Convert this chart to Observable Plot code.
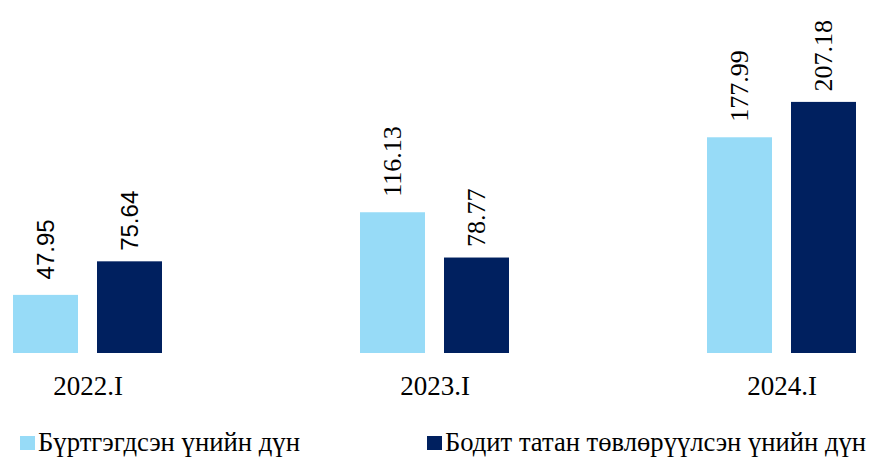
<!DOCTYPE html>
<html><head><meta charset="utf-8">
<script src="https://cdn.jsdelivr.net/npm/d3@7"></script>
<script src="https://cdn.jsdelivr.net/npm/@observablehq/plot@0.6"></script>
<style>
body{margin:0;background:#fff;font-family:"Liberation Serif","Times New Roman",serif;}
#legend{position:relative;height:40px;font-size:27px;color:#000;white-space:nowrap;}
#legend .item{position:absolute;top:0;display:flex;align-items:center;}
#legend .sw{width:15px;height:14px;margin-right:3px;flex:none;}
#legend .lt{display:inline-block;transform-origin:left center;}
</style></head>
<body><div id="chart"></div><div id="legend"></div>
<script>
const groups = ["2022.I", "2023.I", "2024.I"];
const seriesNames = ["Бүртгэгдсэн үнийн дүн", "Бодит татан төвлөрүүлсэн үнийн дүн"];
const registered = [47.95, 116.13, 177.99];
const actual = [75.64, 78.77, 207.18];
const colors = ["#97DBF7", "#00205F"];

const rows = [];
groups.forEach((g, i) => {
  rows.push({group: g, series: seriesNames[0], value: registered[i]});
  rows.push({group: g, series: seriesNames[1], value: actual[i]});
});
const labelText = d => d.value.toFixed(2);
const sansFirst = d => d.group === groups[0];
const SERIF = "'Liberation Serif', 'Times New Roman', serif";
const SANS = "'Liberation Sans', Arial, sans-serif";

function labels(seriesName, dy) {
  const sub = rows.filter(d => d.series === seriesName);
  return [
    Plot.text(sub.filter(sansFirst), {fx: "group", x: "series", y: "value", text: labelText,
      rotate: -90, textAnchor: "start", dy, fontSize: 24, fontFamily: SANS, fill: "#000"}),
    Plot.text(sub.filter(d => !sansFirst(d)), {fx: "group", x: "series", y: "value", text: labelText,
      rotate: -90, textAnchor: "start", dy, fontSize: 26, fontFamily: SERIF, fill: "#000"})
  ];
}

const chart = Plot.plot({
  width: 870, height: 400,
  marginTop: 50, marginBottom: 47, marginLeft: 11, marginRight: 12,
  style: {fontFamily: SERIF, fontSize: "26px", color: "#000"},
  fx: {domain: groups, paddingInner: 0.566, paddingOuter: 0, label: null, axis: null},
  x: {domain: seriesNames, paddingInner: 0.2235, paddingOuter: 0, axis: null},
  y: {domain: [0, 250], axis: null},
  color: {domain: seriesNames, range: colors},
  marks: [
    Plot.barY(rows, {fx: "group", x: "series", y: "value", fill: "series"}),
    ...labels(seriesNames[0], -16),
    ...labels(seriesNames[1], -11),
    Plot.axisFx({anchor: "bottom", tickSize: 0, tickPadding: 22, fontSize: 27, fontFamily: SERIF, label: null})
  ]
});
document.getElementById("chart").appendChild(chart);

const leg = document.getElementById("legend");
const lefts = [20, 427];
const targetWidths = [262, 421];
seriesNames.forEach((s, i) => {
  const it = document.createElement("div");
  it.className = "item";
  it.style.left = lefts[i] + "px";
  it.innerHTML = `<span class="sw" style="background:${colors[i]}"></span><span class="lt">${s}</span>`;
  leg.appendChild(it);
  const lt = it.querySelector(".lt");
  const w = lt.getBoundingClientRect().width;
  if (w > 0) lt.style.transform = `scaleX(${targetWidths[i] / w})`;
});
leg.style.marginTop = "27px";
</script></body></html>
